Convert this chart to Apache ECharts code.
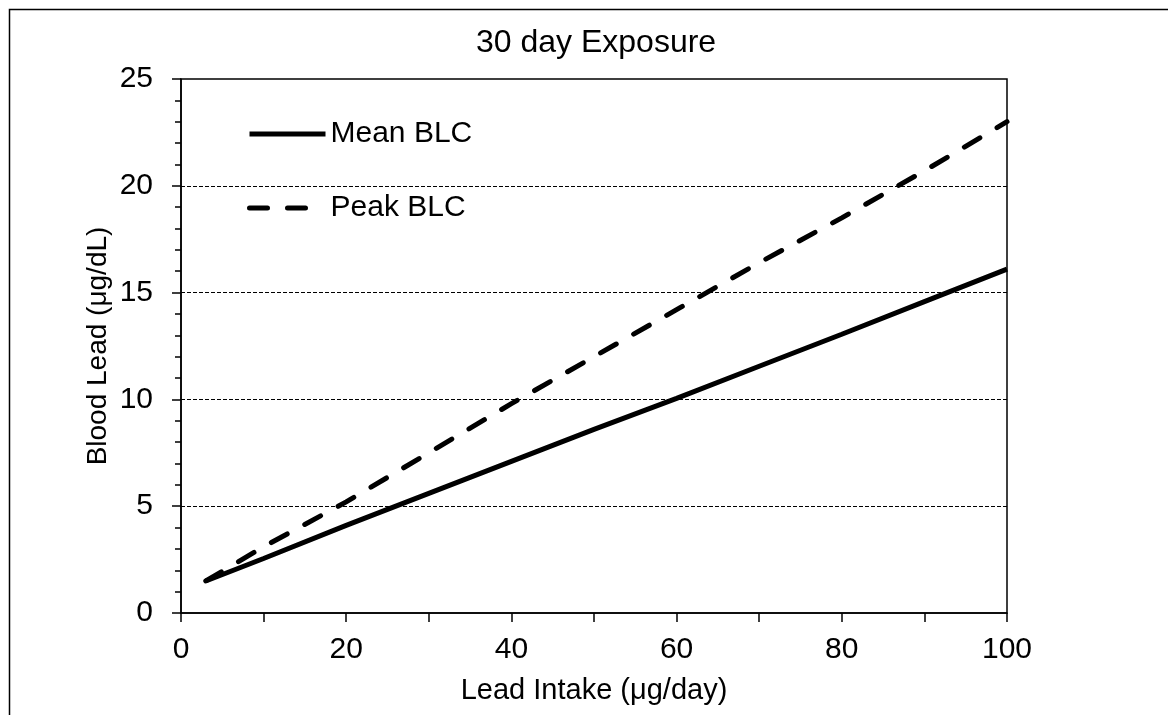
<!DOCTYPE html>
<html>
<head>
<meta charset="utf-8">
<script src="https://cdn.jsdelivr.net/npm/echarts@6/dist/echarts.min.js"></script>
<style>
  html, body { margin: 0; padding: 0; background: #fff; }
  #chart { width: 1168px; height: 715px; }
</style>
</head>
<body>
<div id="chart"></div>
<script>
let intake = [3, 10, 20, 30, 40, 50, 60, 70, 80, 90, 100];
let meanBlc = [1.5, 2.55, 4.1, 5.6, 7.1, 8.6, 10.05, 11.55, 13.05, 14.58, 16.1];
let peakBlc = [1.5, 3.1, 5.2, 7.5, 9.8, 12.0, 14.2, 16.4, 18.5, 20.7, 23.0];

let font = '"Liberation Sans", Arial, sans-serif';
let chart = echarts.init(document.getElementById('chart'));

let options = {
  backgroundColor: '#fff',
  animation: false,
  title: {
    text: '30 day Exposure',
    left: 471,
    top: 22,
    textStyle: { fontFamily: font, fontSize: 32, fontWeight: 'normal', color: '#000' }
  },
  legend: {
    orient: 'vertical',
    left: 242,
    top: 114,
    itemWidth: 76,
    itemHeight: 28,
    itemGap: 44,
    data: ['Mean BLC', 'Peak BLC'],
    itemStyle: { opacity: 0 },
    lineStyle: { width: 5 },
    textStyle: { fontFamily: font, fontSize: 30, color: '#000' }
  },
  grid: {
    left: 181,
    right: 161,
    top: 79,
    bottom: 102,
    show: true,
    borderColor: '#000',
    borderWidth: 1.5
  },
  xAxis: {
    type: 'value',
    min: 0,
    max: 100,
    interval: 20,
    name: 'Lead Intake (μg/day)',
    nameLocation: 'middle',
    nameGap: 63,
    nameTextStyle: { fontFamily: font, fontSize: 29, color: '#000' },
    axisLine: { show: true, lineStyle: { color: '#000', width: 1.5 } },
    axisTick: { show: true, length: 9, lineStyle: { color: '#000', width: 1.5 } },
    minorTick: { show: true, splitNumber: 2, length: 9, lineStyle: { color: '#000', width: 1.5 } },
    axisLabel: { fontFamily: font, fontSize: 30, color: '#000', margin: 22 },
    splitLine: { show: false }
  },
  yAxis: {
    type: 'value',
    min: 0,
    max: 25,
    interval: 5,
    name: 'Blood Lead (μg/dL)',
    nameLocation: 'middle',
    nameGap: 69,
    nameMoveOverlap: false,
    nameTextStyle: { fontFamily: font, fontSize: 28, color: '#000' },
    axisLine: { show: true, lineStyle: { color: '#000', width: 1.5 } },
    axisTick: { show: true, length: 9, lineStyle: { color: '#000', width: 1.5 } },
    minorTick: { show: true, splitNumber: 5, length: 6, lineStyle: { color: '#000', width: 1.5 } },
    axisLabel: { fontFamily: font, fontSize: 30, color: '#000', margin: 28 },
    splitLine: {
      show: true,
      showMinLine: false,
      showMaxLine: false,
      lineStyle: { color: '#000', width: 1, type: [4, 2] }
    }
  },
  series: [
    {
      name: 'Mean BLC',
      type: 'line',
      data: intake.map((x, i) => [x, meanBlc[i]]),
      showSymbol: false,
      symbol: 'none',
      lineStyle: { color: '#000', width: 5 },
      itemStyle: { color: '#000' }
    },
    {
      name: 'Peak BLC',
      type: 'line',
      data: intake.map((x, i) => [x, peakBlc[i]]),
      showSymbol: false,
      symbol: 'none',
      lineStyle: { color: '#000', width: 5, type: [18, 20], cap: 'round' },
      itemStyle: { color: '#000' }
    }
  ],
  graphic: [
    {
      type: 'rect',
      left: 7,
      top: 7,
      shape: { width: 1300, height: 900 },
      style: { fill: 'none', stroke: '#000', lineWidth: 1.5 },
      silent: true
    }
  ]
};

chart.setOption(options);
</script>
</body>
</html>
